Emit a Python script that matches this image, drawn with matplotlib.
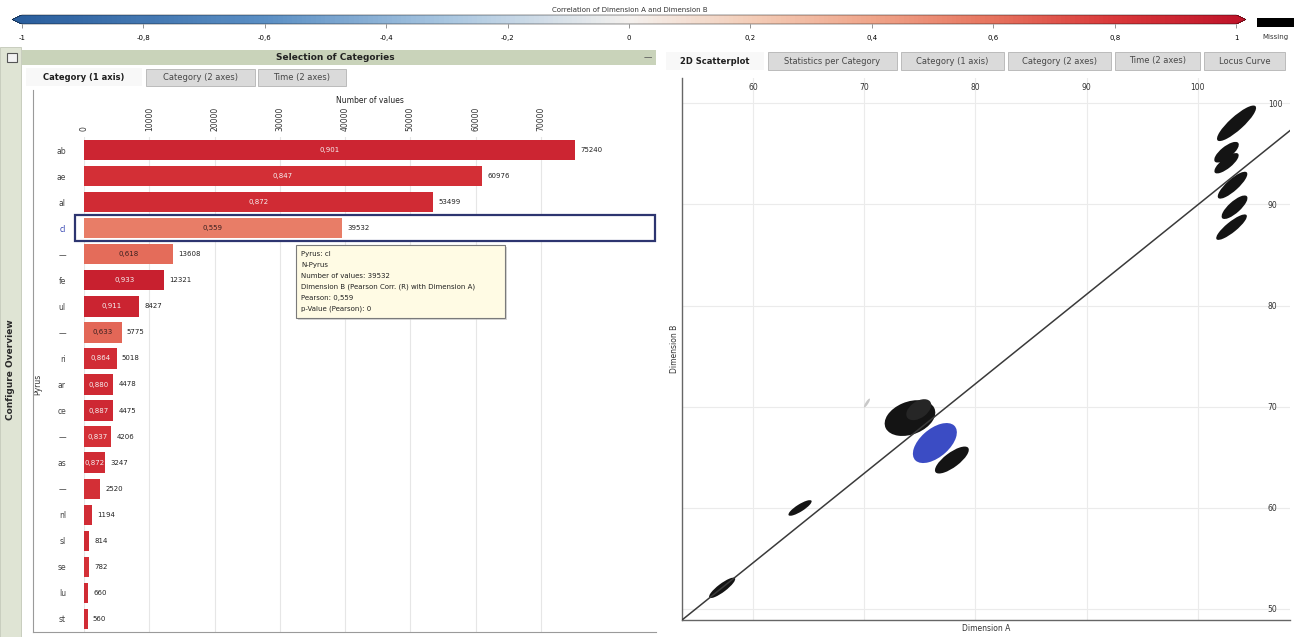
import numpy as np
import matplotlib.pyplot as plt
import matplotlib.transforms as mtransforms
from matplotlib.colors import LinearSegmentedColormap, Normalize
from matplotlib.cm import ScalarMappable
from matplotlib.patches import Rectangle
from matplotlib.collections import EllipseCollection
from matplotlib.lines import Line2D

W, H = 1294, 637

# correlation colour scale
corr_ticks = [-1, -0.8, -0.6, -0.4, -0.2, 0, 0.2, 0.4, 0.6, 0.8, 1]
corr_stops = [-1, -0.6, -0.3, 0, 0.2, 0.4, 0.6, 0.8, 1]
corr_colors = ['#2b5f9e', '#5b8fc4', '#a9c6e0', '#f4f1ee', '#f3cdb8',
               '#efa58a', '#e6735e', '#d9383a', '#c0152a']

# categories (1 axis)
categories = ['ab', 'ae', 'al', 'cl', '—', 'fe', 'ul', '—', 'ri', 'ar',
              'ce', '—', 'as', '—', 'nl', 'sl', 'se', 'lu', 'st']
n_values = [75240, 60976, 53499, 39532, 13608, 12321, 8427, 5775, 5018, 4478,
            4475, 4206, 3247, 2520, 1194, 814, 782, 660, 560]
pearson = [0.901, 0.847, 0.872, 0.559, 0.618, 0.933, 0.911, 0.633, 0.864, 0.880,
           0.887, 0.837, 0.872, 0.850, 0.860, 0.880, 0.840, 0.870, 0.860]
selected = 3
value_ticks = [0, 10000, 20000, 30000, 40000, 50000, 60000, 70000]

# 2D scatterplot: point clouds summarised as ellipses
scatter_xticks = [60, 70, 80, 90, 100]
scatter_yticks = [50, 60, 70, 80, 90, 100]
blob_x = [103.49, 102.59, 102.59, 103.13, 103.31, 103.04, 74.11, 74.9, 76.35, 77.88, 64.22, 57.21, 70.24]
blob_y = [98.02, 95.16, 94.07, 91.90, 89.72, 87.75, 68.87, 69.7, 66.40, 64.72, 59.98, 52.08, 70.36]
blob_len = [4.8, 2.8, 2.8, 3.6, 3.1, 3.6, 4.8, 2.6, 4.9, 3.8, 2.5, 3.0, 1.0]
blob_wid = [1.3, 1.1, 1.0, 1.1, 1.1, 1.0, 3.2, 1.6, 2.7, 1.4, 0.7, 0.8, 0.25]
blob_angle = [45, 42, 42, 45, 45, 42, 25, 40, 45, 40, 35, 40, 60]
blob_color = ['#141414'] * 7 + ['#262626', '#3b4cc4', '#141414', '#141414', '#141414', '#c8c8c8']
fit_x = [53.6, 108.3]
fit_y = [48.9, 97.3]

tooltip_lines = ['Pyrus: cl', 'N-Pyrus',
                 f'Number of values: {n_values[selected]}',
                 'Dimension B (Pearson Corr. (R) with Dimension A)',
                 f'Pearson: {pearson[selected]:.3f}'.replace('.', ','),
                 'p-Value (Pearson): 0']

plt.rcParams['font.family'] = ['DejaVu Sans']
fig = plt.figure(figsize=(W / 100, H / 100), dpi=100, facecolor='white')


def px(x, y):
    return x / W, 1 - y / H


def box(x0, y0, x1, y1):
    return [x0 / W, 1 - y1 / H, (x1 - x0) / W, (y1 - y0) / H]


def fig_rect(x0, y0, x1, y1, **kw):
    fig.patches.append(Rectangle((x0 / W, 1 - y1 / H), (x1 - x0) / W, (y1 - y0) / H,
                                 transform=fig.transFigure, **kw))


def fig_line(xs, ys, **kw):
    fig.lines.append(Line2D([x / W for x in xs], [1 - y / H for y in ys],
                            transform=fig.transFigure, **kw))


def tab(x0, x1, y0, y1, label, active=False):
    if active:
        fig_rect(x0, y0, x1, y1, facecolor='#f8f8f8', edgecolor='none')
    else:
        fig_rect(x0, y0, x1, y1, facecolor='#dadada', edgecolor='#b3b3b3', lw=0.6)
    fig.text(*px((x0 + x1) / 2, (y0 + y1) / 2), label, ha='center', va='center',
             fontsize=6, fontweight='bold' if active else 'normal',
             color='#1e1e1e' if active else '#474747')


corr_cmap = LinearSegmentedColormap.from_list(
    'corr', [((s + 1) / 2, c) for s, c in zip(corr_stops, corr_colors)])
norm = Normalize(-1, 1)

# colour bar on top
cax = fig.add_axes(box(12, 15, 1246, 24))
cb = fig.colorbar(ScalarMappable(norm=norm, cmap=corr_cmap), cax=cax,
                  orientation='horizontal', extend='both', extendfrac=0.008,
                  ticks=corr_ticks)
cb.ax.set_xticklabels([f'{t:g}'.replace('.', ',') for t in corr_ticks])
cb.ax.tick_params(labelsize=5, length=3, width=0.5, pad=5, color='#666')
cb.outline.set_linewidth(0.3)
fig.text(*px(630, 10), 'Correlation of Dimension A and Dimension B',
         ha='center', va='center', fontsize=5, color='#333')
fig_rect(1257, 18, 1294, 27, facecolor='black', edgecolor='none')
fig.text(*px(1262, 37), 'Missing', ha='left', va='center', fontsize=5, color='#333')

# left side bar
fig_rect(0, 47, 21, 637, facecolor='#dfe4d4', edgecolor='#b9bfae', lw=0.5)
fig_rect(7, 53, 17, 62, facecolor='#f2f2f2', edgecolor='#555', lw=0.8)
fig.text(*px(11, 370), 'Configure Overview', rotation=90, ha='center', va='center',
         fontsize=6.5, fontweight='bold', color='#2a2a2a')

# left panel header and tabs
fig_rect(22, 50, 656, 65, facecolor='#c9d3ba', edgecolor='none')
fig.text(*px(335, 58), 'Selection of Categories', ha='center', va='center',
         fontsize=6.5, fontweight='bold', color='#222')
fig.text(*px(648, 58), '—', ha='center', va='center', fontsize=6, color='#555')
tab(26, 142, 68, 86, 'Category (1 axis)', active=True)
tab(146, 255, 69, 86, 'Category (2 axes)')
tab(258, 346, 69, 86, 'Time (2 axes)')
fig_line([33, 33], [90, 632], color='#9a9a9a', lw=0.8)
fig_line([33, 656], [632, 632], color='#9a9a9a', lw=0.8)

# bar chart
ax = fig.add_axes(box(84, 137, 655, 632))
ax.set_facecolor('none')
rows = np.arange(len(categories))
bar_colors = corr_cmap(norm(pearson))
ax.barh(rows, n_values, height=0.78, color=bar_colors, zorder=3)
ax.set_ylim(len(categories) - 0.5, -0.5)
ax.set_xlim(0, 87500)
ax.xaxis.tick_top()
ax.xaxis.set_label_position('top')
ax.set_xticks(value_ticks)
ax.set_xticklabels([str(v) for v in value_ticks], rotation=90, fontsize=5.5, color='#333')
ax.tick_params(axis='x', length=0, pad=4)
ax.set_xlabel('Number of values', fontsize=5.5, labelpad=3, color='#222')
ax.grid(axis='x', color='#e6e6e6', lw=0.8, zorder=0)
for s in ax.spines.values():
    s.set_visible(False)
ax.set_yticks(rows)
ax.set_yticklabels(categories, fontsize=5.5, color='#444')
ax.get_yticklabels()[selected].set_color('#3040b0')
ax.tick_params(axis='y', length=0, pad=13)
ax.set_ylabel('Pyrus', fontsize=5.5, labelpad=10, color='#333')

trans = mtransforms.blended_transform_factory(ax.transAxes, ax.transData)
ax.add_patch(Rectangle((-0.016, selected - 0.5), 1.016, 1.0, transform=trans,
                       facecolor='white', edgecolor='#2d3570', lw=1.6, zorder=2,
                       clip_on=False))

for i, (v, p) in enumerate(zip(n_values, pearson)):
    ax.text(v + 800, i, str(v), va='center', ha='left', fontsize=5, color='#222', zorder=4)
    if v > 3000:
        ax.text(v / 2, i, f'{p:.3f}'.replace('.', ','), va='center', ha='center',
                fontsize=5, color='#f5f0f0' if p > 0.7 else '#3a2020', zorder=4)

# tooltip
fig_rect(298, 247, 507, 320, facecolor='#bdbdbd', edgecolor='none', alpha=0.6)
fig_rect(296, 245, 505, 318, facecolor='#fffbe4', edgecolor='#7a7a7a', lw=0.8)
for k, line in enumerate(tooltip_lines):
    fig.text(*px(301, 254 + k * 11), line, ha='left', va='center', fontsize=5, color='#222')

# right panel tabs
tab(666, 764, 52, 70, '2D Scatterplot', active=True)
tab(768, 897, 52, 70, 'Statistics per Category')
tab(901, 1004, 52, 70, 'Category (1 axis)')
tab(1008, 1111, 52, 70, 'Category (2 axes)')
tab(1115, 1200, 52, 70, 'Time (2 axes)')
tab(1204, 1285, 52, 70, 'Locus Curve')

# scatterplot
sx = fig.add_axes(box(682, 78, 1290, 620))
sx.set_xlim(53.6, 108.3)
sx.set_ylim(48.9, 102.5)
sx.set_xticks(scatter_xticks)
sx.set_yticks(scatter_yticks)
sx.xaxis.tick_top()
sx.yaxis.tick_right()
sx.tick_params(axis='x', length=0, pad=-10, labelsize=5.5, labelcolor='#333')
sx.tick_params(axis='y', length=0, pad=-16, labelsize=5.5, labelcolor='#333')
sx.grid(color='#ebebeb', lw=0.8, zorder=0)
for side in ['top', 'right']:
    sx.spines[side].set_visible(False)
for side in ['left', 'bottom']:
    sx.spines[side].set_color('#666')
    sx.spines[side].set_linewidth(1.0)
sx.xaxis.set_label_position('bottom')
sx.yaxis.set_label_position('left')
sx.set_xlabel('Dimension A', fontsize=5.5, labelpad=3, color='#333')
sx.set_ylabel('Dimension B', fontsize=5.5, labelpad=2, color='#333')

clouds = EllipseCollection(blob_len, blob_wid, blob_angle, units='xy',
                           offsets=np.column_stack([blob_x, blob_y]),
                           offset_transform=sx.transData,
                           facecolors=blob_color, edgecolors='none', zorder=3)
sx.add_collection(clouds)
sx.plot(fit_x, fit_y, color='#3a3a3a', lw=1.1, zorder=5)

fig.savefig('out.png', dpi=100, facecolor='white')
